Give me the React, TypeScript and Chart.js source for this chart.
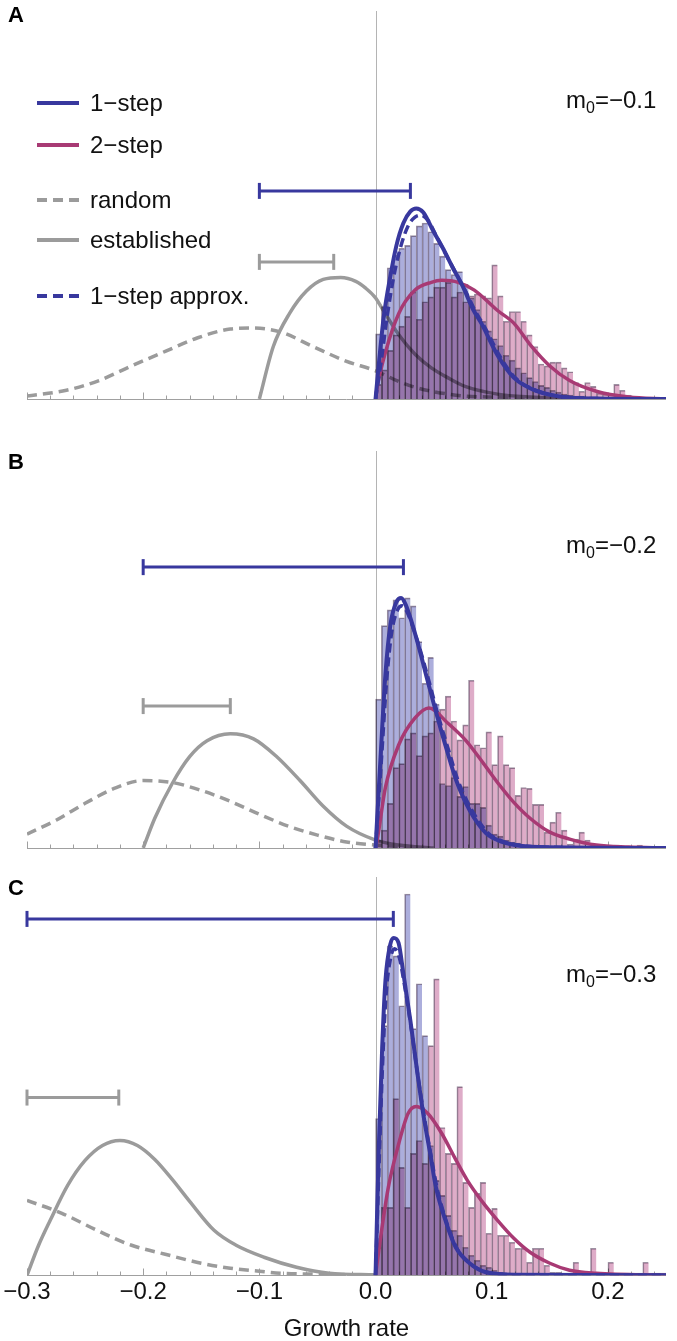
import { useEffect, useRef } from 'react';
import { Chart, registerables } from 'chart.js';
Chart.register(...registerables);

const FONT = '"Liberation Sans", Arial, Helvetica, sans-serif';
const X_MIN = -0.3;
const X_MAX = 0.25;
const MINOR_TICKS = [-0.3, -0.28, -0.26, -0.24, -0.22, -0.2, -0.18, -0.16, -0.14, -0.12, -0.1, -0.08, -0.06, -0.04, -0.02, 0, 0.02, 0.04, 0.06, 0.08, 0.1, 0.12, 0.14, 0.16, 0.18, 0.2, 0.22, 0.24];
const MAJOR_TICKS = [-0.3, -0.2, -0.1, 0, 0.1, 0.2];
const TICK_LABELS = [-0.3, -0.2, -0.1, 0, 0.1, 0.2];

const BIN_CENTERS = [0.0025, 0.0075, 0.0125, 0.0175, 0.0225, 0.0275, 0.0325, 0.0375, 0.0425, 0.0475,
  0.0525, 0.0575, 0.0625, 0.0675, 0.0725, 0.0775, 0.0825, 0.0875, 0.0925, 0.0975,
  0.1025, 0.1075, 0.1125, 0.1175, 0.1225, 0.1275, 0.1325, 0.1375, 0.1425, 0.1475,
  0.1525, 0.1575, 0.1625, 0.1675, 0.1725, 0.1775, 0.1825, 0.1875, 0.1925, 0.1975,
  0.2025, 0.2075, 0.2125, 0.2175, 0.2225, 0.2275, 0.2325, 0.2375, 0.2425, 0.2475];

// ---------- Panel A (m0 = -0.1) ----------
const A_BLUE_HIST = [67, 95, 135, 148, 155, 158, 168, 178, 181, 172, 160, 147, 133, 128, 131, 118, 104, 92, 80, 70, 62, 55, 45, 40, 32, 27, 22, 18, 14, 12, 9, 7, 5, 4, 3, 3, 2, 2, 1, 1, 1, 0, 0, 0, 0, 0, 0, 0, 0, 0];
const A_PINK_HIST = [15, 30, 50, 66, 75, 85, 110, 82, 100, 105, 115, 115, 120, 105, 110, 100, 106, 108, 106, 104, 138, 106, 80, 90, 90, 80, 66, 54, 36, 34, 38, 38, 32, 28, 17, 8, 17, 13, 6, 5, 5, 15, 9, 4, 2, 1, 1, 2, 1, 0];
const A_BLUE_X = [0, 0.003, 0.007, 0.013, 0.018, 0.024, 0.03, 0.035, 0.041, 0.05, 0.058, 0.066, 0.075, 0.084, 0.091, 0.105, 0.119, 0.139, 0.162, 0.19, 0.25];
const A_BLUE_Y = [0, 38, 84, 128, 158, 181, 193, 196, 192, 172, 155, 136, 116, 92, 78, 45, 22, 8, 2, 0.5, 0];
const A_APPROX_X = [0, 0.005, 0.01, 0.016, 0.022, 0.028, 0.034, 0.039, 0.045, 0.053, 0.06, 0.068, 0.077, 0.086, 0.093, 0.107, 0.12, 0.14, 0.163, 0.19, 0.25];
const A_APPROX_Y = [0, 40, 85, 128, 158, 178, 187, 189, 184, 166, 150, 132, 112, 90, 76, 44, 22, 8, 2, 0.5, 0];
const A_PINK_X = [0, 0.0014, 0.0085, 0.02, 0.034, 0.048, 0.057, 0.071, 0.085, 0.105, 0.119, 0.133, 0.15, 0.167, 0.19, 0.218, 0.25];
const A_PINK_Y = [0, 12, 48, 88, 112, 120, 122, 120, 112, 91, 78, 56, 34, 19, 8, 2, 0];
const A_EST_X = [-0.1, -0.088, -0.074, -0.0595, -0.045, -0.03, -0.017, -0.0085, 0, 0.0057, 0.02, 0.034, 0.048, 0.062, 0.077, 0.105, 0.133, 0.17, 0.25];
const A_EST_Y = [0, 54, 88, 111, 123, 125, 121, 114, 104, 93, 66, 46, 32, 22, 13, 5, 2, 0.5, 0];
const A_RAND_X = [-0.3, -0.266, -0.238, -0.21, -0.181, -0.153, -0.125, -0.108, -0.082, -0.054, -0.0255, 0, 0.02, 0.034, 0.048, 0.077, 0.105, 0.15, 0.25];
const A_RAND_Y = [3, 9, 19, 34, 49, 63, 72, 73, 69, 54, 39, 29, 18, 12, 8, 3, 2, 0.5, 0];
const A_BLUE_ERR = [-0.1, 0.03];
const A_BLUE_ERR_H = 214;
const A_GRAY_ERR = [-0.1, -0.036];
const A_GRAY_ERR_H = 141;

// ---------- Panel B (m0 = -0.2) ----------
const B_BLUE_HIST = [150, 224, 240, 250, 232, 252, 244, 208, 166, 192, 145, 65, 63, 71, 52, 62, 45, 45, 41, 23, 14, 12, 8, 6, 5, 3, 3, 2, 1, 1, 1, 0, 0, 0, 0, 0, 0, 0, 0, 0, 0, 0, 0, 0, 0, 0, 0, 0, 0, 0];
const B_PINK_HIST = [8, 18, 45, 81, 85, 110, 116, 93, 113, 116, 128, 140, 153, 128, 109, 124, 169, 104, 101, 117, 84, 113, 84, 81, 53, 61, 60, 44, 44, 16, 26, 36, 18, 4, 9, 16, 8, 4, 3, 2, 2, 3, 1, 2, 1, 3, 1, 1, 0, 0];
const B_BLUE_X = [0, 0.0043, 0.0085, 0.0128, 0.018, 0.022, 0.026, 0.0355, 0.044, 0.0525, 0.061, 0.0695, 0.081, 0.095, 0.105, 0.12, 0.14, 0.25];
const B_BLUE_Y = [0, 91, 175, 225, 248, 252, 245, 210, 172, 135, 100, 68, 38, 15, 8, 3, 1, 0];
const B_APPROX_X = [0, 0.005, 0.0095, 0.014, 0.019, 0.023, 0.027, 0.037, 0.046, 0.054, 0.063, 0.071, 0.083, 0.097, 0.107, 0.122, 0.14, 0.25];
const B_APPROX_Y = [0, 88, 168, 218, 240, 244, 238, 205, 168, 133, 98, 68, 38, 15, 8, 3, 1, 0];
const B_PINK_X = [0, 0.002, 0.0085, 0.02, 0.034, 0.046, 0.062, 0.078, 0.093, 0.107, 0.119, 0.133, 0.15, 0.167, 0.19, 0.218, 0.25];
const B_PINK_Y = [0, 12, 61, 104, 131, 141, 126, 108, 85, 63, 46, 30, 16, 9, 3, 1, 0];
const B_EST_X = [-0.2, -0.19, -0.175, -0.16, -0.145, -0.125, -0.105, -0.085, -0.065, -0.045, -0.025, 0, 0.02, 0.05];
const B_EST_Y = [0, 30, 65, 92, 108, 115, 110, 92, 68, 42, 22, 8, 3, 0];
const B_RAND_X = [-0.3, -0.275, -0.25, -0.225, -0.2, -0.175, -0.15, -0.125, -0.1, -0.075, -0.05, -0.025, 0, 0.03];
const B_RAND_Y = [14, 28, 45, 60, 68, 66, 58, 47, 34, 22, 13, 6, 3, 1];
const B_BLUE_ERR = [-0.2, 0.024];
const B_BLUE_ERR_H = 283;
const B_GRAY_ERR = [-0.2, -0.125];
const B_GRAY_ERR_H = 143;

// ---------- Panel C (m0 = -0.3) ----------
const C_BLUE_HIST = [157, 250, 330, 320, 270, 382, 247, 292, 240, 130, 95, 80, 60, 45, 40, 28, 20, 15, 10, 8, 5, 3, 2, 2, 1, 1, 0, 0, 0, 0, 0, 0, 0, 0, 0, 0, 0, 0, 0, 0, 0, 0, 0, 0, 0, 0, 0, 0, 0, 0];
const C_PINK_HIST = [28, 68, 68, 177, 108, 68, 122, 135, 112, 230, 297, 148, 122, 112, 189, 93, 68, 82, 93, 42, 67, 40, 40, 33, 27, 27, 13, 27, 27, 10, 3, 3, 2, 2, 13, 2, 2, 27, 2, 2, 13, 2, 2, 2, 2, 2, 13, 2, 2, 2];
const C_BLUE_X = [0, 0.0028, 0.0057, 0.0085, 0.0128, 0.0156, 0.0198, 0.024, 0.03, 0.0354, 0.041, 0.047, 0.052, 0.061, 0.069, 0.081, 0.095, 0.12, 0.25];
const C_BLUE_Y = [0, 128, 228, 295, 332, 338, 333, 302, 255, 208, 162, 122, 88, 52, 28, 12, 3, 0.5, 0];
const C_APPROX_X = [0, 0.003, 0.006, 0.009, 0.013, 0.0165, 0.0205, 0.025, 0.031, 0.036, 0.042, 0.048, 0.053, 0.062, 0.07, 0.082, 0.096, 0.12, 0.25];
const C_APPROX_Y = [0, 110, 210, 280, 318, 327, 318, 290, 245, 203, 158, 118, 87, 50, 27, 11, 3, 0.5, 0];
const C_PINK_X = [0, 0.004, 0.011, 0.02, 0.028, 0.035, 0.045, 0.057, 0.068, 0.079, 0.091, 0.105, 0.119, 0.133, 0.15, 0.167, 0.19, 0.25];
const C_PINK_Y = [0, 35, 88, 132, 162, 169, 162, 142, 118, 95, 75, 55, 37, 23, 12, 5, 2, 0];
const C_EST_X = [-0.3, -0.29, -0.28, -0.265, -0.25, -0.235, -0.22, -0.205, -0.19, -0.175, -0.16, -0.139, -0.12, -0.096, -0.068, -0.04, 0];
const C_EST_Y = [0, 30, 55, 90, 115, 130, 135, 130, 116, 96, 74, 45, 30, 18, 8, 2, 0.3];
const C_RAND_X = [-0.3, -0.27, -0.238, -0.21, -0.181, -0.15, -0.125, -0.1, -0.082, -0.05, 0];
const C_RAND_Y = [75, 62, 44, 30, 21, 12, 7, 4, 2, 1, 0.3];
const C_BLUE_ERR = [-0.3, 0.0153];
const C_BLUE_ERR_H = 357;
const C_GRAY_ERR = [-0.3, -0.221];
const C_GRAY_ERR_H = 178;

const BLUE = '#38389e';
const PINK = '#a83a74';
const GRAY = '#9b9b9b';
const BLUE_BAR = 'rgb(172,174,220)';
const PINK_BAR = 'rgb(222,172,200)';
const BAR_EDGE = 'rgba(60,35,70,0.5)';

const pairs = (xs: number[], ys: number[]) => xs.map((x, i) => ({ x, y: ys[i] }));

const decorPlugin = {
  id: 'decor',
  beforeDatasetsDraw(chart: any) {
    const { ctx, chartArea } = chart;
    const x = chart.scales.x;
    const y = chart.scales.y;
    const yb = Math.round(y.getPixelForValue(0)) + 0.5;
    ctx.save();
    ctx.strokeStyle = '#b4b4b4';
    ctx.lineWidth = 1;
    const x0 = Math.round(x.getPixelForValue(0)) + 0.5;
    ctx.beginPath();
    ctx.moveTo(x0, chartArea.top);
    ctx.lineTo(x0, yb);
    ctx.stroke();
    ctx.strokeStyle = '#a0a0a0';
    ctx.beginPath();
    ctx.moveTo(x.getPixelForValue(X_MIN), yb);
    ctx.lineTo(x.getPixelForValue(X_MAX), yb);
    ctx.stroke();
    MINOR_TICKS.forEach((v) => {
      const px = Math.round(x.getPixelForValue(v)) + 0.5;
      const len = MAJOR_TICKS.some((m) => Math.abs(m - v) < 1e-9) ? 7 : 4;
      ctx.beginPath();
      ctx.moveTo(px, yb);
      ctx.lineTo(px, yb - len);
      ctx.stroke();
    });
    ctx.restore();
  },
};

const blendPlugin = {
  id: 'blend',
  beforeDatasetDraw(chart: any, args: any) {
    if (args.meta.type === 'bar') {
      chart.ctx.save();
      chart.ctx.globalCompositeOperation = 'multiply';
    }
  },
  afterDatasetDraw(chart: any, args: any) {
    if (args.meta.type === 'bar') chart.ctx.restore();
  },
};

type PanelData = {
  blueHist: number[]; pinkHist: number[];
  blueX: number[]; blueY: number[];
  approxX: number[]; approxY: number[];
  pinkX: number[]; pinkY: number[];
  estX: number[]; estY: number[];
  randX: number[]; randY: number[];
  blueErr: number[]; blueErrH: number;
  grayErr: number[]; grayErrH: number;
};

const PANEL_A: PanelData = {
  blueHist: A_BLUE_HIST, pinkHist: A_PINK_HIST, blueX: A_BLUE_X, blueY: A_BLUE_Y,
  approxX: A_APPROX_X, approxY: A_APPROX_Y, pinkX: A_PINK_X, pinkY: A_PINK_Y,
  estX: A_EST_X, estY: A_EST_Y, randX: A_RAND_X, randY: A_RAND_Y,
  blueErr: A_BLUE_ERR, blueErrH: A_BLUE_ERR_H, grayErr: A_GRAY_ERR, grayErrH: A_GRAY_ERR_H,
};
const PANEL_B: PanelData = {
  blueHist: B_BLUE_HIST, pinkHist: B_PINK_HIST, blueX: B_BLUE_X, blueY: B_BLUE_Y,
  approxX: B_APPROX_X, approxY: B_APPROX_Y, pinkX: B_PINK_X, pinkY: B_PINK_Y,
  estX: B_EST_X, estY: B_EST_Y, randX: B_RAND_X, randY: B_RAND_Y,
  blueErr: B_BLUE_ERR, blueErrH: B_BLUE_ERR_H, grayErr: B_GRAY_ERR, grayErrH: B_GRAY_ERR_H,
};
const PANEL_C: PanelData = {
  blueHist: C_BLUE_HIST, pinkHist: C_PINK_HIST, blueX: C_BLUE_X, blueY: C_BLUE_Y,
  approxX: C_APPROX_X, approxY: C_APPROX_Y, pinkX: C_PINK_X, pinkY: C_PINK_Y,
  estX: C_EST_X, estY: C_EST_Y, randX: C_RAND_X, randY: C_RAND_Y,
  blueErr: C_BLUE_ERR, blueErrH: C_BLUE_ERR_H, grayErr: C_GRAY_ERR, grayErrH: C_GRAY_ERR_H,
};

const curve = (data: any, color: string, width: number, order: number, dash: number[] = []) => ({
  type: 'line', data, borderColor: color, borderWidth: width, borderDash: dash,
  pointRadius: 0, tension: 0.4, cubicInterpolationMode: 'monotone', fill: false, order,
  borderCapStyle: 'butt', borderJoinStyle: 'round',
});

const errBar = (xs: number[], h: number, color: string) => ({
  type: 'line', data: [{ x: xs[0], y: h }, { x: xs[1], y: h }],
  borderColor: color, borderWidth: 3, pointStyle: 'line', rotation: 90, pointRotation: 90,
  pointRadius: 8, pointBorderWidth: 3, pointBorderColor: color, pointBackgroundColor: color,
  order: 0, clip: false,
});

const barSet = (hist: number[], color: string, order: number) => ({
  type: 'bar', data: pairs(BIN_CENTERS, hist), backgroundColor: color,
  borderColor: BAR_EDGE, borderWidth: { left: 1, top: 1, right: 0, bottom: 0 },
  borderSkipped: false, grouped: false, barPercentage: 1, categoryPercentage: 1, order,
});

function buildConfig(p: PanelData, pad: any, yMax: number, labels: boolean) {
  const datasets: any[] = [
    curve(pairs(p.randX, p.randY), GRAY, 3.5, 11, [10, 6]),
    curve(pairs(p.estX, p.estY), GRAY, 3.5, 10),
    barSet(p.blueHist, BLUE_BAR, 8),
    barSet(p.pinkHist, PINK_BAR, 7),
    curve(pairs(p.pinkX, p.pinkY), PINK, 3.5, 5),
    curve(pairs(p.blueX, p.blueY), BLUE, 4, 4),
    curve(pairs(p.approxX, p.approxY), BLUE, 3.5, 3, [9, 5]),
    errBar(p.grayErr, p.grayErrH, GRAY),
    errBar(p.blueErr, p.blueErrH, BLUE),
  ];
  const xScale: any = {
    type: 'linear', min: X_MIN, max: X_MAX, offset: false, display: labels,
  };
  if (labels) {
    Object.assign(xScale, {
      border: { display: false },
      grid: { display: false, drawTicks: false },
      afterBuildTicks: (scale: any) => { scale.ticks = TICK_LABELS.map((v) => ({ value: v })); },
      ticks: {
        font: { size: 24, family: FONT }, color: '#111', padding: 3, maxRotation: 0, autoSkip: false,
        callback: (v: any) => (v < -1e-9 ? '\u2212' : '') + Math.abs(Number(v)).toFixed(1),
      },
      title: {
        display: true, text: 'Growth rate', color: '#111',
        font: { size: 24, family: FONT, lineHeight: 1 }, padding: { top: 7, bottom: 0 },
      },
    });
  }
  return {
    type: 'line',
    data: { datasets },
    options: {
      animation: false, responsive: false, events: [],
      layout: { padding: pad },
      plugins: { legend: { display: false }, tooltip: { enabled: false } },
      scales: {
        x: xScale,
        y: { type: 'linear', min: 0, max: yMax, display: false },
      },
    },
    plugins: [decorPlugin, blendPlugin],
  };
}

function Panel({ top, height, pad, yMax, data, labels }: any) {
  const ref = useRef<HTMLCanvasElement>(null);
  useEffect(() => {
    const chart = new Chart(ref.current as HTMLCanvasElement, buildConfig(data, pad, yMax, labels) as any);
    return () => chart.destroy();
  }, []);
  return (
    <canvas ref={ref} width={677} height={height}
      style={{ position: 'absolute', left: 0, top, width: 677, height }} />
  );
}

const txt: any = { position: 'absolute', fontFamily: FONT, fontSize: 24, lineHeight: '28px', color: '#111', whiteSpace: 'nowrap' };
const letter: any = { position: 'absolute', fontFamily: FONT, fontSize: 22, fontWeight: 'bold', lineHeight: '24px', color: '#000' };

function M0({ top, value }: any) {
  return (
    <div style={{ ...txt, left: 566, top }}>
      m<span style={{ fontSize: 16, position: 'relative', top: 5 }}>0</span>={'\u2212'}{value}
    </div>
  );
}

function LegendLine({ top, color, dashed }: any) {
  const bg = dashed
    ? `repeating-linear-gradient(90deg, ${color} 0 10px, transparent 10px 16px)`
    : color;
  return <div style={{ position: 'absolute', left: 37, top: top - 2, width: 42, height: 4, background: bg }} />;
}

export default function App() {
  return (
    <div style={{ position: 'absolute', left: 0, top: 0, width: 677, height: 1341, background: '#fff', overflow: 'hidden' }}>
      <Panel top={0} height={410} pad={{ left: 27, right: 3, top: 2, bottom: 9 }} yMax={399} data={PANEL_A} labels={false} />
      <Panel top={440} height={420} pad={{ left: 27, right: 3, top: 8, bottom: 12 }} yMax={400} data={PANEL_B} labels={false} />
      <Panel top={866} height={475} pad={{ left: 27, right: 3, top: 10, bottom: 0 }} yMax={399} data={PANEL_C} labels={true} />

      <div style={{ ...letter, left: 8, top: 3 }}>A</div>
      <div style={{ ...letter, left: 8, top: 450 }}>B</div>
      <div style={{ ...letter, left: 8, top: 876 }}>C</div>

      <M0 top={86} value="0.1" />
      <M0 top={531} value="0.2" />
      <M0 top={960} value="0.3" />

      <LegendLine top={103} color={BLUE} />
      <div style={{ ...txt, left: 90, top: 89 }}>1{'\u2212'}step</div>
      <LegendLine top={145} color={PINK} />
      <div style={{ ...txt, left: 90, top: 131 }}>2{'\u2212'}step</div>
      <LegendLine top={200} color={GRAY} dashed />
      <div style={{ ...txt, left: 90, top: 186 }}>random</div>
      <LegendLine top={240} color={GRAY} />
      <div style={{ ...txt, left: 90, top: 226 }}>established</div>
      <LegendLine top={296} color={BLUE} dashed />
      <div style={{ ...txt, left: 90, top: 282 }}>1{'\u2212'}step approx.</div>
    </div>
  );
}
